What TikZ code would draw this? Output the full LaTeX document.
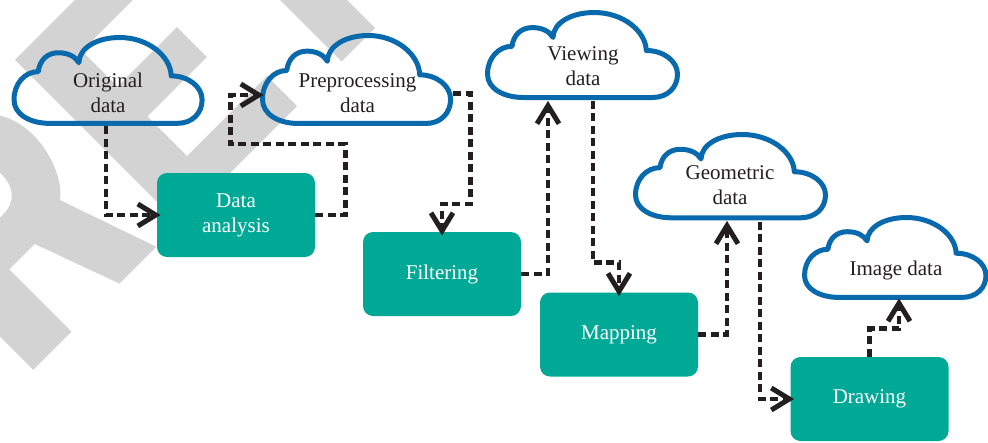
\documentclass[tikz,border=0pt]{standalone}
\usepackage{fontspec}
\setmainfont{Liberation Serif}

\definecolor{boxteal}{RGB}{0,169,150}
\definecolor{cloudblue}{RGB}{8,106,172}
\definecolor{inkdark}{RGB}{35,31,32}
\definecolor{markgray}{RGB}{211,211,211}

\newcommand\diagfont{\fontsize{21}{25}\selectfont}

% Cloud outline in a 190 x 85 frame; #1,#2 = top-left corner, #3,#4 = x/y scale
\newcommand\cloudoutline[4]{%
  \draw[cloudline, shift={(#1,#2)}, xscale=#3, yscale=#4]
    (36,85) .. controls (16,85) and (0,76) .. (0,61.7)
    .. controls (0,45.5) and (11,33.8) .. (24.5,33.8)
    .. controls (26,22) and (34,15.1) .. (44.7,15.1)
    .. controls (55,15.1) and (62,19) .. (65.5,24.9)
    .. controls (66,10) and (84,0) .. (106.8,0)
    .. controls (135,0) and (158,18) .. (158.8,38)
    .. controls (176,38) and (190,48.6) .. (190,61.7)
    .. controls (190,75) and (180,85) .. (165,85)
    -- cycle;}

\tikzset{
  flowbox/.style={fill=boxteal, rounded corners=10pt, minimum width=158pt,
    minimum height=84pt, inner sep=0pt, text=white, font=\diagfont, align=center},
  cloudline/.style={draw=cloudblue, line width=5pt, line join=round},
  cloudarea/.style={inner sep=0pt, minimum width=193pt, minimum height=91pt},
  cloudtext/.style={text=inkdark, font=\diagfont, align=center, inner sep=0pt},
  conn/.style={draw=inkdark, line width=4.8pt, dash pattern=on 8pt off 4.5pt},
  markfill/.style={fill=markgray, even odd rule},
  % open chevron head, apex at the pic origin, pointing along +x
  chevron/.pic={\draw[draw=inkdark, line width=5pt, line join=miter, line cap=butt]
    (-18,-11) -- (0,0) -- (-18,11);},
}

\begin{document}
\begin{tikzpicture}[x=1pt,y=-1pt]
\useasboundingbox (0,0) rectangle (988,442);
\fill[white] (0,0) rectangle (988,442);

% background watermark letters, set along a 45 degree baseline
\begin{scope}
  \clip (0,0) rectangle (988,442);
  \begin{scope}[shift={(201.5,201.5)}, x={(0.7071pt,0.7071pt)}, y={(-0.7071pt,0.7071pt)}]
    % R
    \fill[markfill]
      (-238,0) -- (-238,232) -- (-150,232)
      .. controls (-95,232) and (-72,205) .. (-72,165)
      .. controls (-72,140) and (-84,112) .. (-99,101)
      -- (-64,0) -- (-116,0) -- (-148,88) -- (-184,88) -- (-184,0) -- cycle
      (-184,131) -- (-184,190) -- (-150,190)
      .. controls (-130,190) and (-122,180) .. (-122,162)
      .. controls (-122,142) and (-132,131) .. (-150,131) -- cycle;
    % E
    \fill[markfill]
      (-31.8,0) -- (-31.8,232) -- (125,232) -- (125,191) -- (21.9,191)
      -- (21.9,140.7) -- (106,140.7) -- (106,98.3) -- (21.9,98.3)
      -- (21.9,42.4) -- (135,42.4) -- (135,0) -- cycle;
    % T
    \fill[markfill]
      (198,0) -- (198,190) -- (147,190) -- (147,232) -- (297,232)
      -- (297,190) -- (245.4,190) -- (245.4,0) -- cycle;
  \end{scope}
\end{scope}

% data clouds
\node[cloudarea] (orig) at (108.5,80.5) {};
\node[cloudarea] (prep) at (356.5,79.5) {};
\node[cloudarea] (view) at (582.5,55) {};
\node[cloudarea] (geom) at (730.5,176) {};
\node[cloudarea, minimum width=186pt, minimum height=83pt] (imgd) at (895,256.5) {};

\cloudoutline{14}{37.5}{0.99}{1.01}
\cloudoutline{262.5}{35.5}{0.99}{1.035}
\cloudoutline{487.5}{12.5}{1}{1}
\cloudoutline{635.5}{134.5}{1}{0.98}
\cloudoutline{804.5}{217.5}{0.955}{0.94}

\node[cloudtext] (origtxt) at (108,92.8) {Original\\data};
\node[cloudtext] (preptxt) at (357.5,93) {Preprocessing\\data};
\node[cloudtext] (viewtxt) at (583,66) {Viewing\\data};
\node[cloudtext] (geomtxt) at (730,185.5) {Geometric\\data};
\node[cloudtext] (imgtxt) at (896,270) {Image data};

% processing steps
\node[flowbox] (da) at (236,215) {Data\\analysis};
\node[flowbox] (filt) at (442,274) {Filtering};
\node[flowbox] (map) at (619,334.5) {Mapping};
\node[flowbox] (drw) at (869.5,399) {Drawing};

% dashed flow connectors, each ending in an open chevron
\draw[conn] ([xshift=-2.5pt]orig.south) |- ([xshift=-1pt]da.west);
\pic at ([xshift=-1pt]da.west) {chevron};

\draw[conn] (da.east) -- ++(30,0) -- ++(0,-71) -- ++(-115,0) |- ([xshift=-1pt,yshift=-15.5pt]prep.west);
\pic at ([xshift=-1pt,yshift=-15.5pt]prep.west) {chevron};

\draw[conn] ([yshift=-14pt]prep.east) -- ++(17,0) -- ++(0,110.5) -| ([yshift=1pt]filt.north);
\pic[rotate=-90] at ([yshift=1pt]filt.north) {chevron};

\draw[conn] (filt.east) -| ([xshift=-34.5pt,yshift=-5pt]view.south);
\pic[rotate=90] at ([xshift=-34.5pt,yshift=-5pt]view.south) {chevron};

\draw[conn] ([xshift=10.5pt]view.south) -- ++(0,162) -| ([yshift=1pt]map.north);
\pic[rotate=-90] at ([yshift=1pt]map.north) {chevron};

\draw[conn] (map.east) -| ([xshift=-3.5pt,yshift=-4pt]geom.south);
\pic[rotate=90] at ([xshift=-3.5pt,yshift=-4pt]geom.south) {chevron};

\draw[conn] ([xshift=29.5pt]geom.south) |- ([xshift=-1pt]drw.west);
\pic at ([xshift=-1pt]drw.west) {chevron};

\draw[conn] (drw.north) -- ++(0,-28) -| ([xshift=4pt,yshift=-5pt]imgd.south);
\pic[rotate=90] at ([xshift=4pt,yshift=-5pt]imgd.south) {chevron};
\end{tikzpicture}
\end{document}
